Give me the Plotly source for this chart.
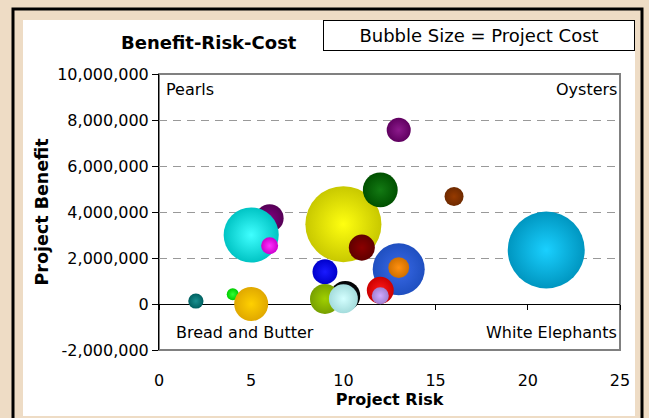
import plotly.graph_objects as go

# ---- data ----
risk = [2, 4, 5, 6, 5, 6, 9, 10.1, 9, 10, 10, 11, 12, 13, 13, 12, 12, 13, 16, 21]
benefit = [130000, 420000, 0, 3730000, 3000000, 2530000, 1400000, 350000, 220000, 230000,
           3470000, 2450000, 4960000, 7570000, 1510000, 600000, 360000, 1580000, 4670000, 2350000]
cost = [80000, 50000, 400000, 270000, 1050000, 100000, 215000, 310000, 310000, 290000,
        2000000, 235000, 420000, 200000, 935000, 250000, 100000, 150000, 125000, 2050000]
edge_colors = ["#006060", "#00cc00", "#e0a800", "#550055", "#00c4c4", "#cc00cc", "#0000cc",
               "#000000", "#77a000", "#a4dcdc", "#c8c800", "#600000", "#005000", "#600060",
               "#1f4fc0", "#cc0000", "#a080d0", "#d07000", "#6e2a00", "#0096c0"]
center_colors = ["#1a9090", "#33ff33", "#ffd000", "#800080", "#40ffff", "#ff33ff", "#1a1aff",
                 "#2a2a40", "#a0d000", "#d4ffff", "#ffff10", "#8b0000", "#137a13", "#8c1a8c",
                 "#3a6ae8", "#ff1a1a", "#d0aaff", "#ff9010", "#963a00", "#1ad0ff"]

x_ticks = [0, 5, 10, 15, 20, 25]
y_ticks = [-2000000, 0, 2000000, 4000000, 6000000, 8000000, 10000000]
y_ticktext = ["-2,000,000", "0", "2,000,000", "4,000,000", "6,000,000", "8,000,000", "10,000,000"]

FONT = "DejaVu Sans"
W, H = 649, 418
ML, MR, MT, MB = 159, 29, 74, 68
PW, PH = W - ML - MR, H - MT - MB


def px(v):
    return (v - ML) / PW


def py(v):
    return (H - MB - v) / PH


fig = go.Figure()
fig.add_trace(go.Scatter(
    x=risk, y=benefit, mode="markers", hoverinfo="skip", showlegend=False,
    marker=dict(size=cost, sizemode="area", sizeref=2 * max(cost) / 77 ** 2,
                color=edge_colors, opacity=1,
                gradient=dict(type="radial", color=center_colors),
                line=dict(width=0)),
))
fig.add_trace(go.Scatter(x=[], y=[], xaxis="x2", yaxis="y", showlegend=False))

fig.update_layout(
    width=W, height=H,
    margin=dict(l=ML, r=MR, t=MT, b=MB),
    paper_bgcolor="#eedcc5",
    plot_bgcolor="rgba(0,0,0,0)",
    font=dict(family=FONT, color="black"),
    xaxis=dict(range=[0, 25], tickvals=x_ticks, ticks="outside", ticklen=16,
               tickcolor="rgba(0,0,0,0)", tickfont=dict(size=16, family=FONT),
               showgrid=False, zeroline=False, showline=False,
               title=dict(text="<b>Project Risk</b>", font=dict(size=16, family=FONT), standoff=0)),
    xaxis2=dict(range=[0, 25], tickvals=x_ticks, overlaying="x", anchor="free",
                position=1 / 6, side="bottom", showticklabels=False, ticks="outside",
                ticklen=5, tickcolor="black", showline=True, linecolor="black", linewidth=1,
                showgrid=False, zeroline=False, layer="below traces"),
    yaxis=dict(range=[-2000000, 10000000], tickvals=y_ticks, ticktext=y_ticktext,
               ticks="outside", ticklen=6, tickcolor="black",
               tickfont=dict(size=16, family=FONT),
               showline=True, linecolor="black", linewidth=1,
               showgrid=True, gridcolor="#999999", griddash="8px,6px", gridwidth=1,
               zeroline=False,
               title=dict(text="<b>Project Benefit</b>", font=dict(size=17.5, family=FONT), standoff=4)),
    shapes=[
        dict(type="rect", xref="paper", yref="paper", x0=px(13), x1=px(642), y0=py(432), y1=py(9),
             line=dict(color="black", width=3), fillcolor="#eedcc5", layer="below"),
        dict(type="rect", xref="paper", yref="paper", x0=px(23), x1=px(635), y0=py(416), y1=py(20),
             line=dict(width=0), fillcolor="white", layer="below"),
        dict(type="rect", xref="paper", yref="paper", x0=0, x1=1, y0=0, y1=1,
             line=dict(color="#808080", width=2), layer="below"),
    ],
    annotations=[
        dict(text="<b>Benefit-Risk-Cost</b>", xref="paper", yref="paper", x=px(209), y=py(43),
             showarrow=False, font=dict(size=18, family=FONT), xanchor="center", yanchor="middle"),
        dict(text="Bubble Size = Project Cost", xref="paper", yref="paper", x=px(479), y=py(35.5),
             showarrow=False, font=dict(size=18, family=FONT), xanchor="center", yanchor="middle",
             width=308, height=27, bordercolor="black", borderwidth=1, borderpad=1, bgcolor="white"),
        dict(text="Pearls", xref="paper", yref="paper", x=px(164), y=py(89), showarrow=False,
             font=dict(size=16, family=FONT), xanchor="left", yanchor="middle"),
        dict(text="Oysters", xref="paper", yref="paper", x=px(619), y=py(89), showarrow=False,
             font=dict(size=16, family=FONT), xanchor="right", yanchor="middle"),
        dict(text="Bread and Butter", xref="paper", yref="paper", x=px(174), y=py(332), showarrow=False,
             font=dict(size=16, family=FONT), xanchor="left", yanchor="middle"),
        dict(text="White Elephants", xref="paper", yref="paper", x=px(619), y=py(332), showarrow=False,
             font=dict(size=16, family=FONT), xanchor="right", yanchor="middle"),
    ],
)

fig.write_html("out.html")
